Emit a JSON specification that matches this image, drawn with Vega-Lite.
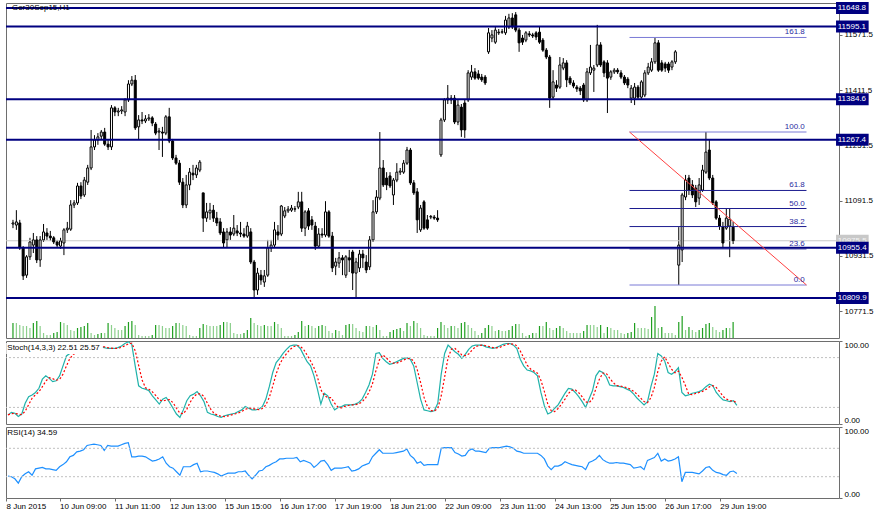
{
"$schema":"https://vega.github.io/schema/vega-lite/v6.json",
"background":"white",
"padding":{"left":0,"top":1,"right":0,"bottom":0},
"bounds":"flush",
"spacing":3,
"config":{"view":{"stroke":"#6e6e6e","strokeWidth":1},"text":{"font":"Liberation Sans","fontSize":8}},
"datasets":{
"levels":[{"p":11648.8},{"p":11595.1},{"p":11384.6},{"p":11267.4},{"p":10955.4},{"p":10809.9}],
"fib":[{"lvl":"161.8","p":11563.6},{"lvl":"100.0","p":11290.1},{"lvl":"61.8","p":11121.0},{"lvl":"50.0","p":11068.8},{"lvl":"38.2","p":11016.6},{"lvl":"23.6","p":10952.0},{"lvl":"0.0","p":10847.5}],
"bars":[
{"i":0,"o":11024,"h":11036,"l":11012,"c":11027,"v":1500,"k":11,"d":11,"r":31},
{"i":1,"o":11021,"h":11064,"l":11007,"c":11030,"v":1500,"k":14,"d":12.5,"r":30},
{"i":2,"o":11027,"h":11036,"l":10949,"c":10955,"v":1300,"k":13,"d":12.7,"r":27},
{"i":3,"o":10955,"h":10960,"l":10862,"c":10874,"v":1200,"k":9,"d":12,"r":21},
{"i":4,"o":10876,"h":10934,"l":10868,"c":10929,"v":1200,"k":12,"d":11.3,"r":30},
{"i":5,"o":10929,"h":10984,"l":10920,"c":10972,"v":1000,"k":25,"d":15.3,"r":34},
{"i":6,"o":10963,"h":10998,"l":10940,"c":10978,"v":1500,"k":33,"d":23.3,"r":37},
{"i":7,"o":10978,"h":10989,"l":10911,"c":10920,"v":1700,"k":35,"d":31,"r":32},
{"i":8,"o":10920,"h":10989,"l":10900,"c":10978,"v":1200,"k":38,"d":35.3,"r":41},
{"i":9,"o":10978,"h":11024,"l":10972,"c":11001,"v":500,"k":43,"d":38.7,"r":42},
{"i":10,"o":10998,"h":11012,"l":10978,"c":10989,"v":300,"k":54,"d":45,"r":43},
{"i":11,"o":10989,"h":11004,"l":10975,"c":10984,"v":300,"k":58,"d":51.7,"r":41},
{"i":12,"o":10984,"h":10989,"l":10966,"c":10972,"v":500,"k":55,"d":55.7,"r":41},
{"i":13,"o":10972,"h":10978,"l":10955,"c":10963,"v":600,"k":51,"d":54.7,"r":40},
{"i":14,"o":10960,"h":10984,"l":10952,"c":10975,"v":1600,"k":52,"d":52.7,"r":39},
{"i":15,"o":10969,"h":11012,"l":10934,"c":11007,"v":1500,"k":58,"d":53.7,"r":44},
{"i":16,"o":11007,"h":11030,"l":10998,"c":11012,"v":1300,"k":70,"d":60,"r":47},
{"i":17,"o":11009,"h":11093,"l":11004,"c":11079,"v":800,"k":82,"d":70,"r":51},
{"i":18,"o":11079,"h":11093,"l":11070,"c":11085,"v":700,"k":85,"d":79,"r":58},
{"i":19,"o":11085,"h":11143,"l":11079,"c":11134,"v":1000,"k":85,"d":84,"r":60},
{"i":20,"o":11134,"h":11145,"l":11096,"c":11105,"v":1100,"k":86,"d":85.3,"r":65},
{"i":21,"o":11108,"h":11160,"l":11102,"c":11151,"v":1200,"k":88,"d":86.3,"r":66},
{"i":22,"o":11145,"h":11195,"l":11137,"c":11186,"v":1500,"k":90,"d":88,"r":68},
{"i":23,"o":11186,"h":11296,"l":11180,"c":11247,"v":500,"k":93,"d":90.3,"r":74},
{"i":24,"o":11247,"h":11281,"l":11238,"c":11267,"v":300,"k":94,"d":92.3,"r":75},
{"i":25,"o":11267,"h":11287,"l":11253,"c":11276,"v":400,"k":95,"d":94,"r":76},
{"i":26,"o":11278,"h":11296,"l":11267,"c":11290,"v":500,"k":94,"d":94.3,"r":75},
{"i":27,"o":11290,"h":11302,"l":11250,"c":11255,"v":500,"k":93,"d":94,"r":74},
{"i":28,"o":11255,"h":11267,"l":11238,"c":11247,"v":1500,"k":92,"d":93,"r":67},
{"i":29,"o":11247,"h":11368,"l":11238,"c":11360,"v":1300,"k":91,"d":92,"r":74},
{"i":30,"o":11360,"h":11365,"l":11336,"c":11348,"v":1000,"k":91,"d":91.3,"r":73},
{"i":31,"o":11348,"h":11360,"l":11336,"c":11351,"v":800,"k":91,"d":91,"r":73},
{"i":32,"o":11351,"h":11365,"l":11342,"c":11354,"v":800,"k":92,"d":91.3,"r":73},
{"i":33,"o":11348,"h":11388,"l":11336,"c":11383,"v":1200,"k":94,"d":92.3,"r":75},
{"i":34,"o":11383,"h":11440,"l":11377,"c":11429,"v":1600,"k":97,"d":94.3,"r":77},
{"i":35,"o":11429,"h":11452,"l":11423,"c":11440,"v":1700,"k":99,"d":96.7,"r":78},
{"i":36,"o":11440,"h":11455,"l":11296,"c":11302,"v":1300,"k":96,"d":97.3,"r":58},
{"i":37,"o":11305,"h":11339,"l":11267,"c":11325,"v":300,"k":70,"d":88.3,"r":58},
{"i":38,"o":11325,"h":11348,"l":11313,"c":11322,"v":200,"k":46,"d":70.7,"r":59},
{"i":39,"o":11322,"h":11339,"l":11316,"c":11328,"v":200,"k":43,"d":53,"r":59},
{"i":40,"o":11328,"h":11342,"l":11322,"c":11331,"v":200,"k":42,"d":43.7,"r":58},
{"i":41,"o":11331,"h":11336,"l":11307,"c":11316,"v":300,"k":40,"d":41.7,"r":55},
{"i":42,"o":11313,"h":11319,"l":11281,"c":11287,"v":1300,"k":34,"d":38.7,"r":52},
{"i":43,"o":11290,"h":11302,"l":11238,"c":11293,"v":1300,"k":29,"d":34.3,"r":53},
{"i":44,"o":11290,"h":11305,"l":11218,"c":11287,"v":1200,"k":24,"d":29,"r":55},
{"i":45,"o":11287,"h":11339,"l":11281,"c":11334,"v":1000,"k":30,"d":27.7,"r":58},
{"i":46,"o":11334,"h":11360,"l":11258,"c":11264,"v":1000,"k":32,"d":28.7,"r":49},
{"i":47,"o":11264,"h":11270,"l":11209,"c":11215,"v":1200,"k":26,"d":29.3,"r":44},
{"i":48,"o":11215,"h":11224,"l":11195,"c":11200,"v":1500,"k":19,"d":25.7,"r":42},
{"i":49,"o":11200,"h":11209,"l":11137,"c":11145,"v":1500,"k":12,"d":19,"r":37},
{"i":50,"o":11145,"h":11157,"l":11070,"c":11079,"v":1300,"k":8,"d":13,"r":32},
{"i":51,"o":11079,"h":11166,"l":11070,"c":11137,"v":1200,"k":17,"d":12.3,"r":44},
{"i":52,"o":11137,"h":11186,"l":11122,"c":11174,"v":300,"k":28,"d":17.7,"r":44},
{"i":53,"o":11171,"h":11195,"l":11151,"c":11166,"v":200,"k":34,"d":26.3,"r":44},
{"i":54,"o":11166,"h":11195,"l":11157,"c":11186,"v":200,"k":36,"d":32.7,"r":47},
{"i":55,"o":11180,"h":11209,"l":11174,"c":11203,"v":1000,"k":39,"d":36.3,"r":49},
{"i":56,"o":11114,"h":11114,"l":11001,"c":11041,"v":1400,"k":34,"d":36.3,"r":37},
{"i":57,"o":11041,"h":11085,"l":11030,"c":11059,"v":1300,"k":27,"d":33.3,"r":38},
{"i":58,"o":11056,"h":11085,"l":11036,"c":11064,"v":1200,"k":14,"d":25,"r":38},
{"i":59,"o":11064,"h":11079,"l":11030,"c":11041,"v":1200,"k":12,"d":17.7,"r":37},
{"i":60,"o":11041,"h":11059,"l":11018,"c":11027,"v":1200,"k":11,"d":12.3,"r":36},
{"i":61,"o":11030,"h":11041,"l":10992,"c":10998,"v":1300,"k":9,"d":10.7,"r":34},
{"i":62,"o":11001,"h":11012,"l":10957,"c":10969,"v":1600,"k":8,"d":9.3,"r":31},
{"i":63,"o":10978,"h":11012,"l":10955,"c":11001,"v":1600,"k":10,"d":9,"r":33},
{"i":64,"o":11001,"h":11015,"l":10978,"c":10992,"v":1500,"k":11,"d":9.7,"r":35},
{"i":65,"o":10995,"h":11050,"l":10989,"c":11012,"v":500,"k":12,"d":11,"r":35},
{"i":66,"o":11004,"h":11021,"l":10989,"c":10998,"v":400,"k":13,"d":12,"r":35},
{"i":67,"o":10998,"h":11030,"l":10986,"c":10995,"v":400,"k":15,"d":13.3,"r":37},
{"i":68,"o":10995,"h":11012,"l":10984,"c":10989,"v":500,"k":17,"d":15,"r":37},
{"i":69,"o":10989,"h":11030,"l":10984,"c":11018,"v":800,"k":21,"d":17.7,"r":38},
{"i":70,"o":11001,"h":11012,"l":10908,"c":10914,"v":2000,"k":19,"d":19,"r":32},
{"i":71,"o":10914,"h":10920,"l":10810,"c":10833,"v":1500,"k":17,"d":19,"r":27},
{"i":72,"o":10833,"h":10897,"l":10819,"c":10882,"v":1300,"k":17,"d":17.7,"r":32},
{"i":73,"o":10876,"h":10891,"l":10848,"c":10862,"v":1200,"k":18,"d":17.3,"r":38},
{"i":74,"o":10856,"h":10891,"l":10842,"c":10874,"v":1300,"k":21,"d":18.7,"r":39},
{"i":75,"o":10876,"h":10978,"l":10871,"c":10955,"v":1200,"k":30,"d":23,"r":44},
{"i":76,"o":10955,"h":10978,"l":10943,"c":10963,"v":1200,"k":45,"d":32,"r":46},
{"i":77,"o":10963,"h":11030,"l":10955,"c":11007,"v":1600,"k":62,"d":45.7,"r":49},
{"i":78,"o":11001,"h":11021,"l":10978,"c":10992,"v":1400,"k":74,"d":60.3,"r":51},
{"i":79,"o":10995,"h":11079,"l":10989,"c":11076,"v":1000,"k":79,"d":71.7,"r":55},
{"i":80,"o":11047,"h":11073,"l":11041,"c":11062,"v":200,"k":85,"d":79.3,"r":55},
{"i":81,"o":11062,"h":11076,"l":11056,"c":11067,"v":200,"k":90,"d":84.7,"r":56},
{"i":82,"o":11064,"h":11079,"l":11059,"c":11070,"v":200,"k":94,"d":89.7,"r":56},
{"i":83,"o":11067,"h":11076,"l":11059,"c":11068,"v":300,"k":95,"d":93,"r":56},
{"i":84,"o":11073,"h":11117,"l":11067,"c":11088,"v":600,"k":95,"d":94.7,"r":57},
{"i":85,"o":11088,"h":11117,"l":11001,"c":11012,"v":1700,"k":91,"d":93.7,"r":51},
{"i":86,"o":11012,"h":11064,"l":10989,"c":11059,"v":1200,"k":83,"d":89.7,"r":53},
{"i":87,"o":11062,"h":11070,"l":11007,"c":11018,"v":1300,"k":75,"d":83,"r":51},
{"i":88,"o":11036,"h":11047,"l":11007,"c":11021,"v":1200,"k":70,"d":76,"r":49},
{"i":89,"o":11018,"h":11030,"l":10949,"c":10960,"v":1000,"k":58,"d":67.7,"r":43},
{"i":90,"o":10960,"h":11012,"l":10955,"c":10995,"v":1200,"k":42,"d":56.7,"r":47},
{"i":91,"o":10995,"h":11012,"l":10984,"c":10992,"v":1300,"k":24,"d":41.3,"r":52},
{"i":92,"o":10992,"h":11090,"l":10986,"c":11059,"v":1200,"k":37,"d":34.3,"r":53},
{"i":93,"o":11059,"h":11064,"l":10984,"c":10989,"v":700,"k":34,"d":31.7,"r":47},
{"i":94,"o":10989,"h":11001,"l":10885,"c":10897,"v":500,"k":24,"d":31.7,"r":39},
{"i":95,"o":10902,"h":10926,"l":10876,"c":10914,"v":800,"k":17,"d":25,"r":42},
{"i":96,"o":10911,"h":10943,"l":10897,"c":10926,"v":700,"k":20,"d":20.3,"r":42},
{"i":97,"o":10926,"h":10934,"l":10876,"c":10920,"v":300,"k":21,"d":19.3,"r":42},
{"i":98,"o":10876,"h":10934,"l":10868,"c":10929,"v":1300,"k":23,"d":21.3,"r":43},
{"i":99,"o":10926,"h":10949,"l":10885,"c":10920,"v":1400,"k":23,"d":22.3,"r":44},
{"i":100,"o":10943,"h":10949,"l":10833,"c":10882,"v":1400,"k":23,"d":23,"r":38},
{"i":101,"o":10882,"h":10926,"l":10810,"c":10914,"v":1000,"k":24,"d":23.3,"r":39},
{"i":102,"o":10897,"h":10949,"l":10885,"c":10937,"v":700,"k":26,"d":24.3,"r":41},
{"i":103,"o":10937,"h":10949,"l":10897,"c":10926,"v":600,"k":30,"d":26.7,"r":45},
{"i":104,"o":10914,"h":10934,"l":10882,"c":10891,"v":1200,"k":38,"d":31.3,"r":47},
{"i":105,"o":10900,"h":10989,"l":10891,"c":10978,"v":1200,"k":47,"d":38.3,"r":49},
{"i":106,"o":10978,"h":11093,"l":10972,"c":11059,"v":1100,"k":60,"d":48.3,"r":58},
{"i":107,"o":11059,"h":11122,"l":11053,"c":11102,"v":1300,"k":85,"d":64,"r":63},
{"i":108,"o":11099,"h":11290,"l":11093,"c":11186,"v":800,"k":86,"d":77,"r":68},
{"i":109,"o":11186,"h":11209,"l":11131,"c":11137,"v":200,"k":79,"d":83.3,"r":63},
{"i":110,"o":11157,"h":11174,"l":11122,"c":11137,"v":200,"k":75,"d":80,"r":63},
{"i":111,"o":11163,"h":11174,"l":11128,"c":11134,"v":600,"k":72,"d":75.3,"r":63},
{"i":112,"o":11108,"h":11157,"l":11079,"c":11151,"v":800,"k":73,"d":73.3,"r":63},
{"i":113,"o":11151,"h":11200,"l":11145,"c":11174,"v":900,"k":75,"d":73.3,"r":64},
{"i":114,"o":11174,"h":11186,"l":11166,"c":11177,"v":1000,"k":77,"d":75,"r":65},
{"i":115,"o":11174,"h":11209,"l":11169,"c":11200,"v":700,"k":79,"d":77,"r":66},
{"i":116,"o":11200,"h":11247,"l":11195,"c":11238,"v":1500,"k":80,"d":78.7,"r":69},
{"i":117,"o":11238,"h":11244,"l":11137,"c":11143,"v":1200,"k":78,"d":79,"r":60},
{"i":118,"o":11143,"h":11151,"l":11108,"c":11114,"v":1700,"k":70,"d":76,"r":56},
{"i":119,"o":11117,"h":11128,"l":10998,"c":11036,"v":1500,"k":50,"d":66,"r":49},
{"i":120,"o":11007,"h":11079,"l":11001,"c":11070,"v":1000,"k":30,"d":50,"r":51},
{"i":121,"o":11088,"h":11093,"l":11007,"c":11012,"v":300,"k":17,"d":32.3,"r":46},
{"i":122,"o":11036,"h":11050,"l":11007,"c":11012,"v":200,"k":16,"d":21,"r":47},
{"i":123,"o":11044,"h":11050,"l":11038,"c":11046,"v":200,"k":15,"d":16,"r":47},
{"i":124,"o":11044,"h":11050,"l":11036,"c":11041,"v":200,"k":16,"d":15.7,"r":47},
{"i":125,"o":11041,"h":11064,"l":11030,"c":11036,"v":1000,"k":25,"d":18.7,"r":47},
{"i":126,"o":11224,"h":11331,"l":11218,"c":11325,"v":1600,"k":60,"d":33.7,"r":70},
{"i":127,"o":11325,"h":11388,"l":11319,"c":11383,"v":1300,"k":85,"d":56.7,"r":71},
{"i":128,"o":11383,"h":11426,"l":11371,"c":11388,"v":1000,"k":95,"d":80,"r":71},
{"i":129,"o":11388,"h":11397,"l":11371,"c":11383,"v":1200,"k":91,"d":90.3,"r":71},
{"i":130,"o":11388,"h":11397,"l":11313,"c":11319,"v":1200,"k":87,"d":91,"r":64},
{"i":131,"o":11319,"h":11383,"l":11310,"c":11368,"v":1000,"k":84,"d":87.3,"r":62},
{"i":132,"o":11362,"h":11371,"l":11276,"c":11296,"v":1500,"k":79,"d":83.3,"r":59},
{"i":133,"o":11374,"h":11383,"l":11273,"c":11296,"v":1600,"k":84,"d":82.3,"r":60},
{"i":134,"o":11383,"h":11469,"l":11377,"c":11461,"v":1300,"k":90,"d":84.3,"r":67},
{"i":135,"o":11449,"h":11484,"l":11441,"c":11464,"v":1000,"k":94,"d":89.3,"r":69},
{"i":136,"o":11464,"h":11475,"l":11441,"c":11446,"v":700,"k":95,"d":93,"r":66},
{"i":137,"o":11458,"h":11469,"l":11441,"c":11446,"v":300,"k":95,"d":94.7,"r":66},
{"i":138,"o":11449,"h":11458,"l":11435,"c":11441,"v":500,"k":95,"d":95,"r":65},
{"i":139,"o":11449,"h":11455,"l":11426,"c":11432,"v":1000,"k":93,"d":94.3,"r":64},
{"i":140,"o":11522,"h":11591,"l":11516,"c":11577,"v":1300,"k":92,"d":93.3,"r":70},
{"i":141,"o":11562,"h":11585,"l":11550,"c":11571,"v":1200,"k":91,"d":92,"r":71},
{"i":142,"o":11550,"h":11594,"l":11545,"c":11585,"v":700,"k":92,"d":91.7,"r":71},
{"i":143,"o":11577,"h":11588,"l":11571,"c":11579,"v":800,"k":94,"d":92.3,"r":71},
{"i":144,"o":11579,"h":11588,"l":11574,"c":11580,"v":700,"k":96,"d":94,"r":72},
{"i":145,"o":11577,"h":11626,"l":11571,"c":11614,"v":700,"k":97,"d":95.7,"r":73},
{"i":146,"o":11594,"h":11632,"l":11588,"c":11620,"v":800,"k":97,"d":96.7,"r":72},
{"i":147,"o":11620,"h":11634,"l":11588,"c":11594,"v":1200,"k":95,"d":96.3,"r":70},
{"i":148,"o":11629,"h":11637,"l":11579,"c":11585,"v":1400,"k":91,"d":94.3,"r":66},
{"i":149,"o":11585,"h":11591,"l":11522,"c":11548,"v":1400,"k":78,"d":88,"r":65},
{"i":150,"o":11562,"h":11571,"l":11542,"c":11550,"v":500,"k":70,"d":79.7,"r":63},
{"i":151,"o":11556,"h":11582,"l":11550,"c":11577,"v":200,"k":65,"d":71,"r":63},
{"i":152,"o":11574,"h":11582,"l":11565,"c":11571,"v":300,"k":64,"d":66.3,"r":63},
{"i":153,"o":11571,"h":11577,"l":11562,"c":11568,"v":500,"k":62,"d":63.7,"r":63},
{"i":154,"o":11577,"h":11582,"l":11556,"c":11565,"v":500,"k":58,"d":61.3,"r":63},
{"i":155,"o":11579,"h":11594,"l":11545,"c":11550,"v":1200,"k":38,"d":52.7,"r":60},
{"i":156,"o":11556,"h":11562,"l":11522,"c":11527,"v":1200,"k":22,"d":39.3,"r":55},
{"i":157,"o":11527,"h":11533,"l":11501,"c":11507,"v":1600,"k":12,"d":24,"r":45},
{"i":158,"o":11507,"h":11513,"l":11360,"c":11388,"v":1000,"k":14,"d":16,"r":40},
{"i":159,"o":11391,"h":11469,"l":11385,"c":11435,"v":800,"k":19,"d":15,"r":45},
{"i":160,"o":11426,"h":11440,"l":11406,"c":11417,"v":1000,"k":23,"d":18.7,"r":45},
{"i":161,"o":11420,"h":11507,"l":11415,"c":11484,"v":1200,"k":30,"d":24,"r":47},
{"i":162,"o":11475,"h":11504,"l":11469,"c":11490,"v":1000,"k":37,"d":30,"r":51},
{"i":163,"o":11490,"h":11498,"l":11420,"c":11441,"v":700,"k":43,"d":36.7,"r":49},
{"i":164,"o":11446,"h":11452,"l":11426,"c":11432,"v":500,"k":42,"d":40.7,"r":47},
{"i":165,"o":11432,"h":11440,"l":11417,"c":11423,"v":500,"k":38,"d":41,"r":46},
{"i":166,"o":11420,"h":11426,"l":11406,"c":11415,"v":500,"k":33,"d":37.7,"r":45},
{"i":167,"o":11417,"h":11423,"l":11397,"c":11409,"v":500,"k":27,"d":32.7,"r":44},
{"i":168,"o":11426,"h":11432,"l":11377,"c":11383,"v":700,"k":20,"d":26.7,"r":40},
{"i":169,"o":11383,"h":11475,"l":11377,"c":11464,"v":1300,"k":30,"d":25.7,"r":50},
{"i":170,"o":11461,"h":11542,"l":11455,"c":11478,"v":1300,"k":40,"d":30,"r":52},
{"i":171,"o":11469,"h":11484,"l":11406,"c":11475,"v":1300,"k":58,"d":42.7,"r":55},
{"i":172,"o":11484,"h":11600,"l":11478,"c":11542,"v":1100,"k":64,"d":54,"r":60},
{"i":173,"o":11542,"h":11550,"l":11478,"c":11484,"v":1300,"k":62,"d":61.3,"r":54},
{"i":174,"o":11493,"h":11498,"l":11449,"c":11461,"v":500,"k":57,"d":61,"r":51},
{"i":175,"o":11490,"h":11498,"l":11345,"c":11446,"v":1100,"k":47,"d":55.3,"r":49},
{"i":176,"o":11449,"h":11469,"l":11441,"c":11464,"v":1000,"k":46,"d":50,"r":49},
{"i":177,"o":11464,"h":11475,"l":11458,"c":11469,"v":800,"k":46,"d":46.3,"r":50},
{"i":178,"o":11469,"h":11475,"l":11458,"c":11464,"v":800,"k":45,"d":45.7,"r":49},
{"i":179,"o":11461,"h":11469,"l":11443,"c":11449,"v":500,"k":44,"d":45,"r":49},
{"i":180,"o":11449,"h":11455,"l":11426,"c":11432,"v":400,"k":42,"d":43.7,"r":48},
{"i":181,"o":11443,"h":11449,"l":11417,"c":11426,"v":500,"k":40,"d":42,"r":47},
{"i":182,"o":11388,"h":11426,"l":11374,"c":11417,"v":600,"k":36,"d":39.3,"r":42},
{"i":183,"o":11388,"h":11432,"l":11368,"c":11420,"v":1500,"k":31,"d":35.7,"r":43},
{"i":184,"o":11420,"h":11426,"l":11383,"c":11391,"v":1000,"k":27,"d":31.3,"r":44},
{"i":185,"o":11391,"h":11440,"l":11386,"c":11435,"v":1000,"k":23,"d":27,"r":40},
{"i":186,"o":11397,"h":11469,"l":11391,"c":11461,"v":1000,"k":27,"d":25.7,"r":53},
{"i":187,"o":11461,"h":11490,"l":11455,"c":11478,"v":900,"k":45,"d":31.7,"r":55},
{"i":188,"o":11469,"h":11504,"l":11464,"c":11493,"v":2100,"k":60,"d":44,"r":57},
{"i":189,"o":11493,"h":11562,"l":11487,"c":11548,"v":3200,"k":85,"d":63.3,"r":63},
{"i":190,"o":11548,"h":11556,"l":11464,"c":11469,"v":1000,"k":82,"d":75.7,"r":52},
{"i":191,"o":11490,"h":11498,"l":11464,"c":11469,"v":1100,"k":76,"d":81,"r":55},
{"i":192,"o":11487,"h":11493,"l":11464,"c":11475,"v":500,"k":62,"d":73.3,"r":52},
{"i":193,"o":11487,"h":11493,"l":11461,"c":11469,"v":500,"k":60,"d":66,"r":53},
{"i":194,"o":11478,"h":11498,"l":11469,"c":11493,"v":500,"k":63,"d":61.7,"r":55},
{"i":195,"o":11493,"h":11527,"l":11487,"c":11522,"v":300,"k":68,"d":63.7,"r":58},
{"i":196,"o":10905,"h":11015,"l":10847.5,"c":10963,"v":1600,"k":38,"d":56.3,"r":23},
{"i":197,"o":10949,"h":11114,"l":10914,"c":11108,"v":2200,"k":34,"d":46.7,"r":36},
{"i":198,"o":11102,"h":11166,"l":11093,"c":11151,"v":800,"k":35,"d":35.7,"r":36},
{"i":199,"o":11157,"h":11166,"l":11108,"c":11122,"v":1100,"k":37,"d":35.3,"r":36},
{"i":200,"o":11137,"h":11151,"l":11099,"c":11108,"v":800,"k":38,"d":36.7,"r":35},
{"i":201,"o":11128,"h":11137,"l":11073,"c":11088,"v":600,"k":39,"d":38,"r":34},
{"i":202,"o":11099,"h":11157,"l":11079,"c":11137,"v":800,"k":41,"d":39.3,"r":38},
{"i":203,"o":11122,"h":11195,"l":11117,"c":11180,"v":1000,"k":45,"d":41.7,"r":43},
{"i":204,"o":11174,"h":11290,"l":11169,"c":11232,"v":1400,"k":48,"d":44.7,"r":44},
{"i":205,"o":11238,"h":11267,"l":11151,"c":11157,"v":1500,"k":46,"d":46.3,"r":39},
{"i":206,"o":11157,"h":11166,"l":11079,"c":11085,"v":1100,"k":38,"d":44,"r":36},
{"i":207,"o":11088,"h":11093,"l":11036,"c":11041,"v":800,"k":33,"d":39,"r":35},
{"i":208,"o":11041,"h":11050,"l":11007,"c":11018,"v":600,"k":29,"d":33.3,"r":33},
{"i":209,"o":11015,"h":11030,"l":10957,"c":10969,"v":800,"k":28,"d":30,"r":32},
{"i":210,"o":11012,"h":11070,"l":11007,"c":11041,"v":1000,"k":27,"d":28,"r":37},
{"i":211,"o":11018,"h":11070,"l":10928,"c":11038,"v":1000,"k":28,"d":27.7,"r":38},
{"i":212,"o":11015,"h":11030,"l":10966,"c":10975.5,"v":1600,"k":22.51,"d":25.57,"r":34.59}
]},
"vconcat":[
{
"width":833,"height":335,
"resolve":{"scale":{"y":"independent"}},
"layer":[
{"data":{"name":"bars"},
 "transform":[{"window":[{"op":"lag","field":"v","as":"pv"}],"sort":[{"field":"i"}]}],
 "mark":{"type":"rule","strokeWidth":1.2},
 "encoding":{
  "x":{"field":"i","type":"quantitative","scale":{"domain":[-0.58,241.7],"nice":false,"zero":false},"axis":null},
  "y":{"field":"v","type":"quantitative","scale":{"domain":[0,33500],"nice":false},"axis":null},
  "y2":{"datum":0},
  "color":{"condition":{"test":"datum.pv == null || datum.v > datum.pv","value":"#1f9f1f"},"value":"#8ccf8c"}}},
{"layer":[
 {"data":{"name":"bars"},
  "mark":{"type":"rule","color":"#000000","strokeWidth":1},
  "encoding":{"x":{"field":"i","type":"quantitative","scale":{"domain":[-0.58,241.7],"nice":false,"zero":false},"axis":null},
   "y":{"field":"l","type":"quantitative","scale":{"domain":[10694.2,11663.3],"nice":false,"zero":false},
    "axis":{"orient":"right","values":[10771.5,10851.5,10931.5,11011.5,11091.5,11171.5,11251.5,11331.5,11411.5,11491.5,11571.5],"format":".1f","title":null,"grid":false,"domain":false,"tickSize":3,"tickColor":"#6e6e6e","labelPadding":2,"labelFlush":false,"labelOverlap":false,"labelColor":"#000000","labelFontSize":8}},
   "y2":{"field":"h"}}},
 {"data":{"values":[{"p":10975.5}]},
  "mark":{"type":"rule","color":"#c8c8c8","strokeWidth":1},
  "encoding":{"y":{"field":"p","type":"quantitative"}}},
 {"data":{"name":"bars"},
  "mark":{"type":"bar","width":2,"stroke":"#000000","strokeWidth":1},
  "encoding":{"x":{"field":"i","type":"quantitative","axis":null},
   "y":{"field":"o","type":"quantitative"},"y2":{"field":"c"},
   "fill":{"condition":{"test":"datum.c < datum.o","value":"#000000"},"value":"#ffffff"}}},
 {"data":{"name":"levels"},
  "mark":{"type":"rule","color":"#000080","strokeWidth":2},
  "encoding":{"y":{"field":"p","type":"quantitative"}}},
 {"data":{"name":"fib"},
  "mark":{"type":"rule","strokeWidth":1},
  "encoding":{"x":{"datum":181.5,"type":"quantitative","axis":null},"x2":{"datum":233.6},
   "y":{"field":"p","type":"quantitative"},
   "color":{"condition":{"test":"datum.lvl=='161.8'||datum.lvl=='100.0'||datum.lvl=='0.0'","value":"#7a7ad6"},"value":"#1c1c8f"}}},
 {"data":{"values":[{}]},
  "mark":{"type":"rule","color":"#ff4040","strokeWidth":1},
  "encoding":{"x":{"datum":181.5,"type":"quantitative","axis":null},"x2":{"datum":233.6},
   "y":{"datum":11290.1,"type":"quantitative"},"y2":{"datum":10847.5}}},
 {"data":{"name":"fib"},
  "mark":{"type":"text","align":"right","baseline":"bottom","dy":-1,"color":"#2a2aa0","fontSize":8},
  "encoding":{"x":{"datum":233.1,"type":"quantitative","axis":null},
   "y":{"field":"p","type":"quantitative"},"text":{"field":"lvl"}}},
 {"data":{"values":[{"t":"Ger30Sep15,H1"}]},
  "mark":{"type":"text","align":"left","baseline":"middle","color":"#000000","fontSize":8},
  "encoding":{"x":{"datum":-0.3,"type":"quantitative","axis":null},
   "y":{"datum":11648.8,"type":"quantitative"},"text":{"field":"t"}}},
 {"data":{"values":[{"p":10975.5}]},
  "mark":{"type":"rule","color":"#c8c8c8","strokeWidth":12},
  "encoding":{"x":{"datum":242.3,"type":"quantitative","axis":null},"x2":{"datum":251.9},
   "y":{"field":"p","type":"quantitative"}}},
 {"data":{"values":[{"p":10975.5}]},
  "mark":{"type":"text","align":"left","baseline":"middle","color":"#f4f4f4","fontSize":8},
  "encoding":{"x":{"datum":242.8,"type":"quantitative","axis":null},
   "y":{"field":"p","type":"quantitative"},"text":{"field":"p","format":".1f"}}},
 {"data":{"name":"levels"},
  "mark":{"type":"rule","color":"#000080","strokeWidth":12},
  "encoding":{"x":{"datum":242.3,"type":"quantitative","axis":null},"x2":{"datum":251.9},
   "y":{"field":"p","type":"quantitative"}}},
 {"data":{"name":"levels"},
  "mark":{"type":"text","align":"left","baseline":"middle","color":"#ffffff","fontSize":8},
  "encoding":{"x":{"datum":242.8,"type":"quantitative","axis":null},
   "y":{"field":"p","type":"quantitative"},"text":{"field":"p","format":".1f"}}}
]}
]},
{
"width":833,"height":83,
"layer":[
 {"data":{"name":"bars"},
  "mark":{"type":"line","color":"#20b2aa","strokeWidth":1.2},
  "encoding":{"x":{"field":"i","type":"quantitative","scale":{"domain":[-0.58,241.7],"nice":false,"zero":false},"axis":null},
   "y":{"field":"k","type":"quantitative","scale":{"domain":[0,100],"nice":false,"zero":false},
    "axis":{"orient":"right","values":[0,20,80,100],"format":".2f","title":null,"grid":false,"domain":false,"tickSize":3,"tickColor":"#6e6e6e","labelPadding":2,"labelFlush":true,"labelOverlap":false,"labelColor":"#000000","labelFontSize":8}}}},
 {"data":{"values":[{"g":20},{"g":80}]},
  "mark":{"type":"rule","color":"#c0c0c0","strokeDash":[2,2],"strokeWidth":1},
  "encoding":{"y":{"field":"g","type":"quantitative"}}},
 {"data":{"name":"bars"},
  "mark":{"type":"line","color":"#ff0000","strokeWidth":1.2,"strokeDash":[2,2]},
  "encoding":{"x":{"field":"i","type":"quantitative","axis":null},
   "y":{"field":"d","type":"quantitative"}}},
 {"data":{"values":[{}]},
  "mark":{"type":"rule","color":"#ffffff","strokeWidth":11},
  "encoding":{"x":{"datum":-0.5,"type":"quantitative","axis":null},"x2":{"datum":27.6},
   "y":{"datum":91,"type":"quantitative"}}},
 {"data":{"values":[{"t":"Stoch(14,3,3) 22.51 25.57"}]},
  "mark":{"type":"text","align":"left","baseline":"middle","color":"#000000","fontSize":8},
  "encoding":{"x":{"datum":-0.2,"type":"quantitative","axis":null},
   "y":{"datum":91,"type":"quantitative"},"text":{"field":"t"}}}
]},
{
"width":833,"height":71,
"layer":[
 {"data":{"name":"bars"},
  "mark":{"type":"line","color":"#1e90ff","strokeWidth":1.2},
  "encoding":{"x":{"field":"i","type":"quantitative","scale":{"domain":[-0.58,241.7],"nice":false,"zero":false},
   "axis":{"orient":"bottom","values":[-0.58,15,31,47,63,79,95,111,127,143,159,175,191,207],
    "labelExpr":"datum.value < 0 ? '8 Jun 2015' : datum.value < 20 ? '10 Jun 09:00' : datum.value < 40 ? '11 Jun 11:00' : datum.value < 50 ? '12 Jun 13:00' : datum.value < 70 ? '15 Jun 15:00' : datum.value < 80 ? '16 Jun 17:00' : datum.value < 100 ? '17 Jun 19:00' : datum.value < 120 ? '18 Jun 21:00' : datum.value < 130 ? '22 Jun 09:00' : datum.value < 150 ? '23 Jun 11:00' : datum.value < 160 ? '24 Jun 13:00' : datum.value < 180 ? '25 Jun 15:00' : datum.value < 200 ? '26 Jun 17:00' : '29 Jun 19:00'",
    "labelAlign":"left","labelFlush":false,"labelOverlap":false,"tickSize":3,"tickColor":"#6e6e6e","labelPadding":1,"title":null,"grid":false,"domain":false,"labelColor":"#000000","labelFontSize":8}},
   "y":{"field":"r","type":"quantitative","scale":{"domain":[0,100],"nice":false,"zero":false},
    "axis":{"orient":"right","values":[0,30,70,100],"format":".2f","title":null,"grid":false,"domain":false,"tickSize":3,"tickColor":"#6e6e6e","labelPadding":2,"labelFlush":true,"labelOverlap":false,"labelColor":"#000000","labelFontSize":8}}}},
 {"data":{"values":[{"g":30},{"g":70}]},
  "mark":{"type":"rule","color":"#c0c0c0","strokeDash":[2,2],"strokeWidth":1},
  "encoding":{"y":{"field":"g","type":"quantitative"}}},
 {"data":{"values":[{"t":"RSI(14) 34.59"}]},
  "mark":{"type":"text","align":"left","baseline":"middle","color":"#000000","fontSize":8},
  "encoding":{"x":{"datum":-0.2,"type":"quantitative"},
   "y":{"datum":91,"type":"quantitative"},"text":{"field":"t"}}}
]}
],
"resolve":{"scale":{"x":"independent","y":"independent"}}
}
